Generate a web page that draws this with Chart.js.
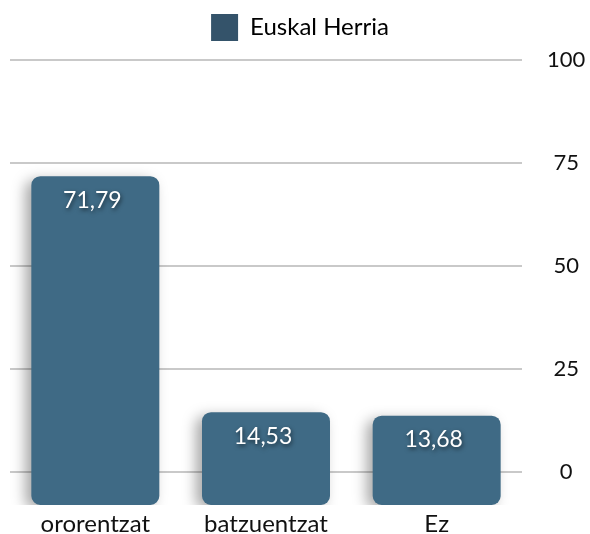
<!DOCTYPE html>
<html>
<head>
<meta charset="utf-8">
<script src="https://cdn.jsdelivr.net/npm/chart.js@4/dist/chart.umd.min.js"></script>
<style>
html,body{margin:0;padding:0;background:#fff;}
#wrap{width:590px;height:534px;}
</style>
</head>
<body>
<div id="wrap"><canvas id="c" width="590" height="534"></canvas></div>
<script>
const categories = ["ororentzat", "batzuentzat", "Ez"];
const seriesName = "Euskal Herria";
const values = [71.79, 14.53, 13.68];
const valueLabels = ["71,79", "14,53", "13,68"];
const tickValues = [0, 25, 50, 75, 100];

const FONT = "Lato, 'Open Sans', sans-serif";

function barFill(ctx) {
  const chart = ctx.chart;
  const el = ctx.element;
  if (!el || !chart.chartArea) return '#3f6a85';
  const p = el.getProps(['x', 'width'], true);
  if (!isFinite(p.x) || !isFinite(p.width)) return '#3f6a85';
  const l = p.x - p.width / 2, r = p.x + p.width / 2;
  const g = chart.ctx.createLinearGradient(l, 0, r, 0);
  g.addColorStop(0, '#335b74');
  g.addColorStop(0.08, '#3b6681');
  g.addColorStop(0.75, '#43718d');
  g.addColorStop(0.93, '#3a637d');
  g.addColorStop(1, '#243f50');
  return g;
}

const legendSpace = {
  id: 'legendSpace',
  beforeInit(chart) {
    const orig = chart.legend.fit;
    chart.legend.fit = function () {
      orig.bind(chart.legend)();
      this.height += 9;
    };
  }
};

const shadowPlugin = {
  id: 'shadowPlugin',
  beforeDatasetsDraw(chart) {
    const c = chart.ctx;
    c.save();
    c.shadowColor = 'rgba(0,0,0,0.35)';
    c.shadowBlur = 14;
    c.shadowOffsetX = -6;
    c.shadowOffsetY = 4;
  },
  afterDatasetsDraw(chart) {
    chart.ctx.restore();
    const c = chart.ctx;
    const meta = chart.getDatasetMeta(0);
    c.save();
    c.font = "23px " + FONT;
    c.textAlign = 'center';
    c.textBaseline = 'middle';
    c.fillStyle = '#ffffff';
    c.shadowColor = 'rgba(0,0,0,0.6)';
    c.shadowBlur = 4;
    c.shadowOffsetX = 1;
    c.shadowOffsetY = 2;
    meta.data.forEach((bar, i) => {
      c.fillText(valueLabels[i], bar.x - 3, bar.y + 24);
    });
    c.restore();
  }
};

new Chart(document.getElementById('c'), {
  type: 'bar',
  data: {
    labels: categories,
    datasets: [{
      label: seriesName,
      data: values,
      base: -8,
      backgroundColor: barFill,
      borderRadius: 9,
      borderSkipped: false,
      categoryPercentage: 1,
      barPercentage: 0.75
    }]
  },
  options: {
    responsive: false,
    animation: false,
    devicePixelRatio: 1,
    layout: { padding: { left: 10, right: 0, top: 6, bottom: 0 } },
    plugins: {
      legend: {
        position: 'top',
        labels: {
          font: { family: FONT, size: 24 },
          color: '#1a1a1a',
          boxWidth: 27,
          boxHeight: 27,
          padding: 8,
          generateLabels: (chart) => [{
            text: seriesName,
            fillStyle: '#34536a',
            strokeStyle: '#34536a',
            lineWidth: 0,
            datasetIndex: 0
          }]
        }
      },
      tooltip: { enabled: false }
    },
    scales: {
      x: {
        grid: { display: false },
        border: { display: false },
        afterFit: (s) => { s.height = 29; },
        ticks: { font: { family: FONT, size: 24 }, color: '#111', padding: -3 }
      },
      y: {
        position: 'right',
        min: -8,
        max: 100,
        afterBuildTicks: (s) => { s.ticks = tickValues.map(v => ({ value: v })); },
        afterFit: (s) => { s.width = 68; s.paddingTop = 12; s.paddingBottom = 12; },
        grid: { color: '#c9c9c9', lineWidth: 2, drawTicks: false },
        border: { display: false },
        ticks: {
          font: { family: FONT, size: 22 },
          color: '#111',
          padding: 25,
          crossAlign: 'center'
        }
      }
    }
  },
  plugins: [legendSpace, shadowPlugin]
});
</script>
</body>
</html>
